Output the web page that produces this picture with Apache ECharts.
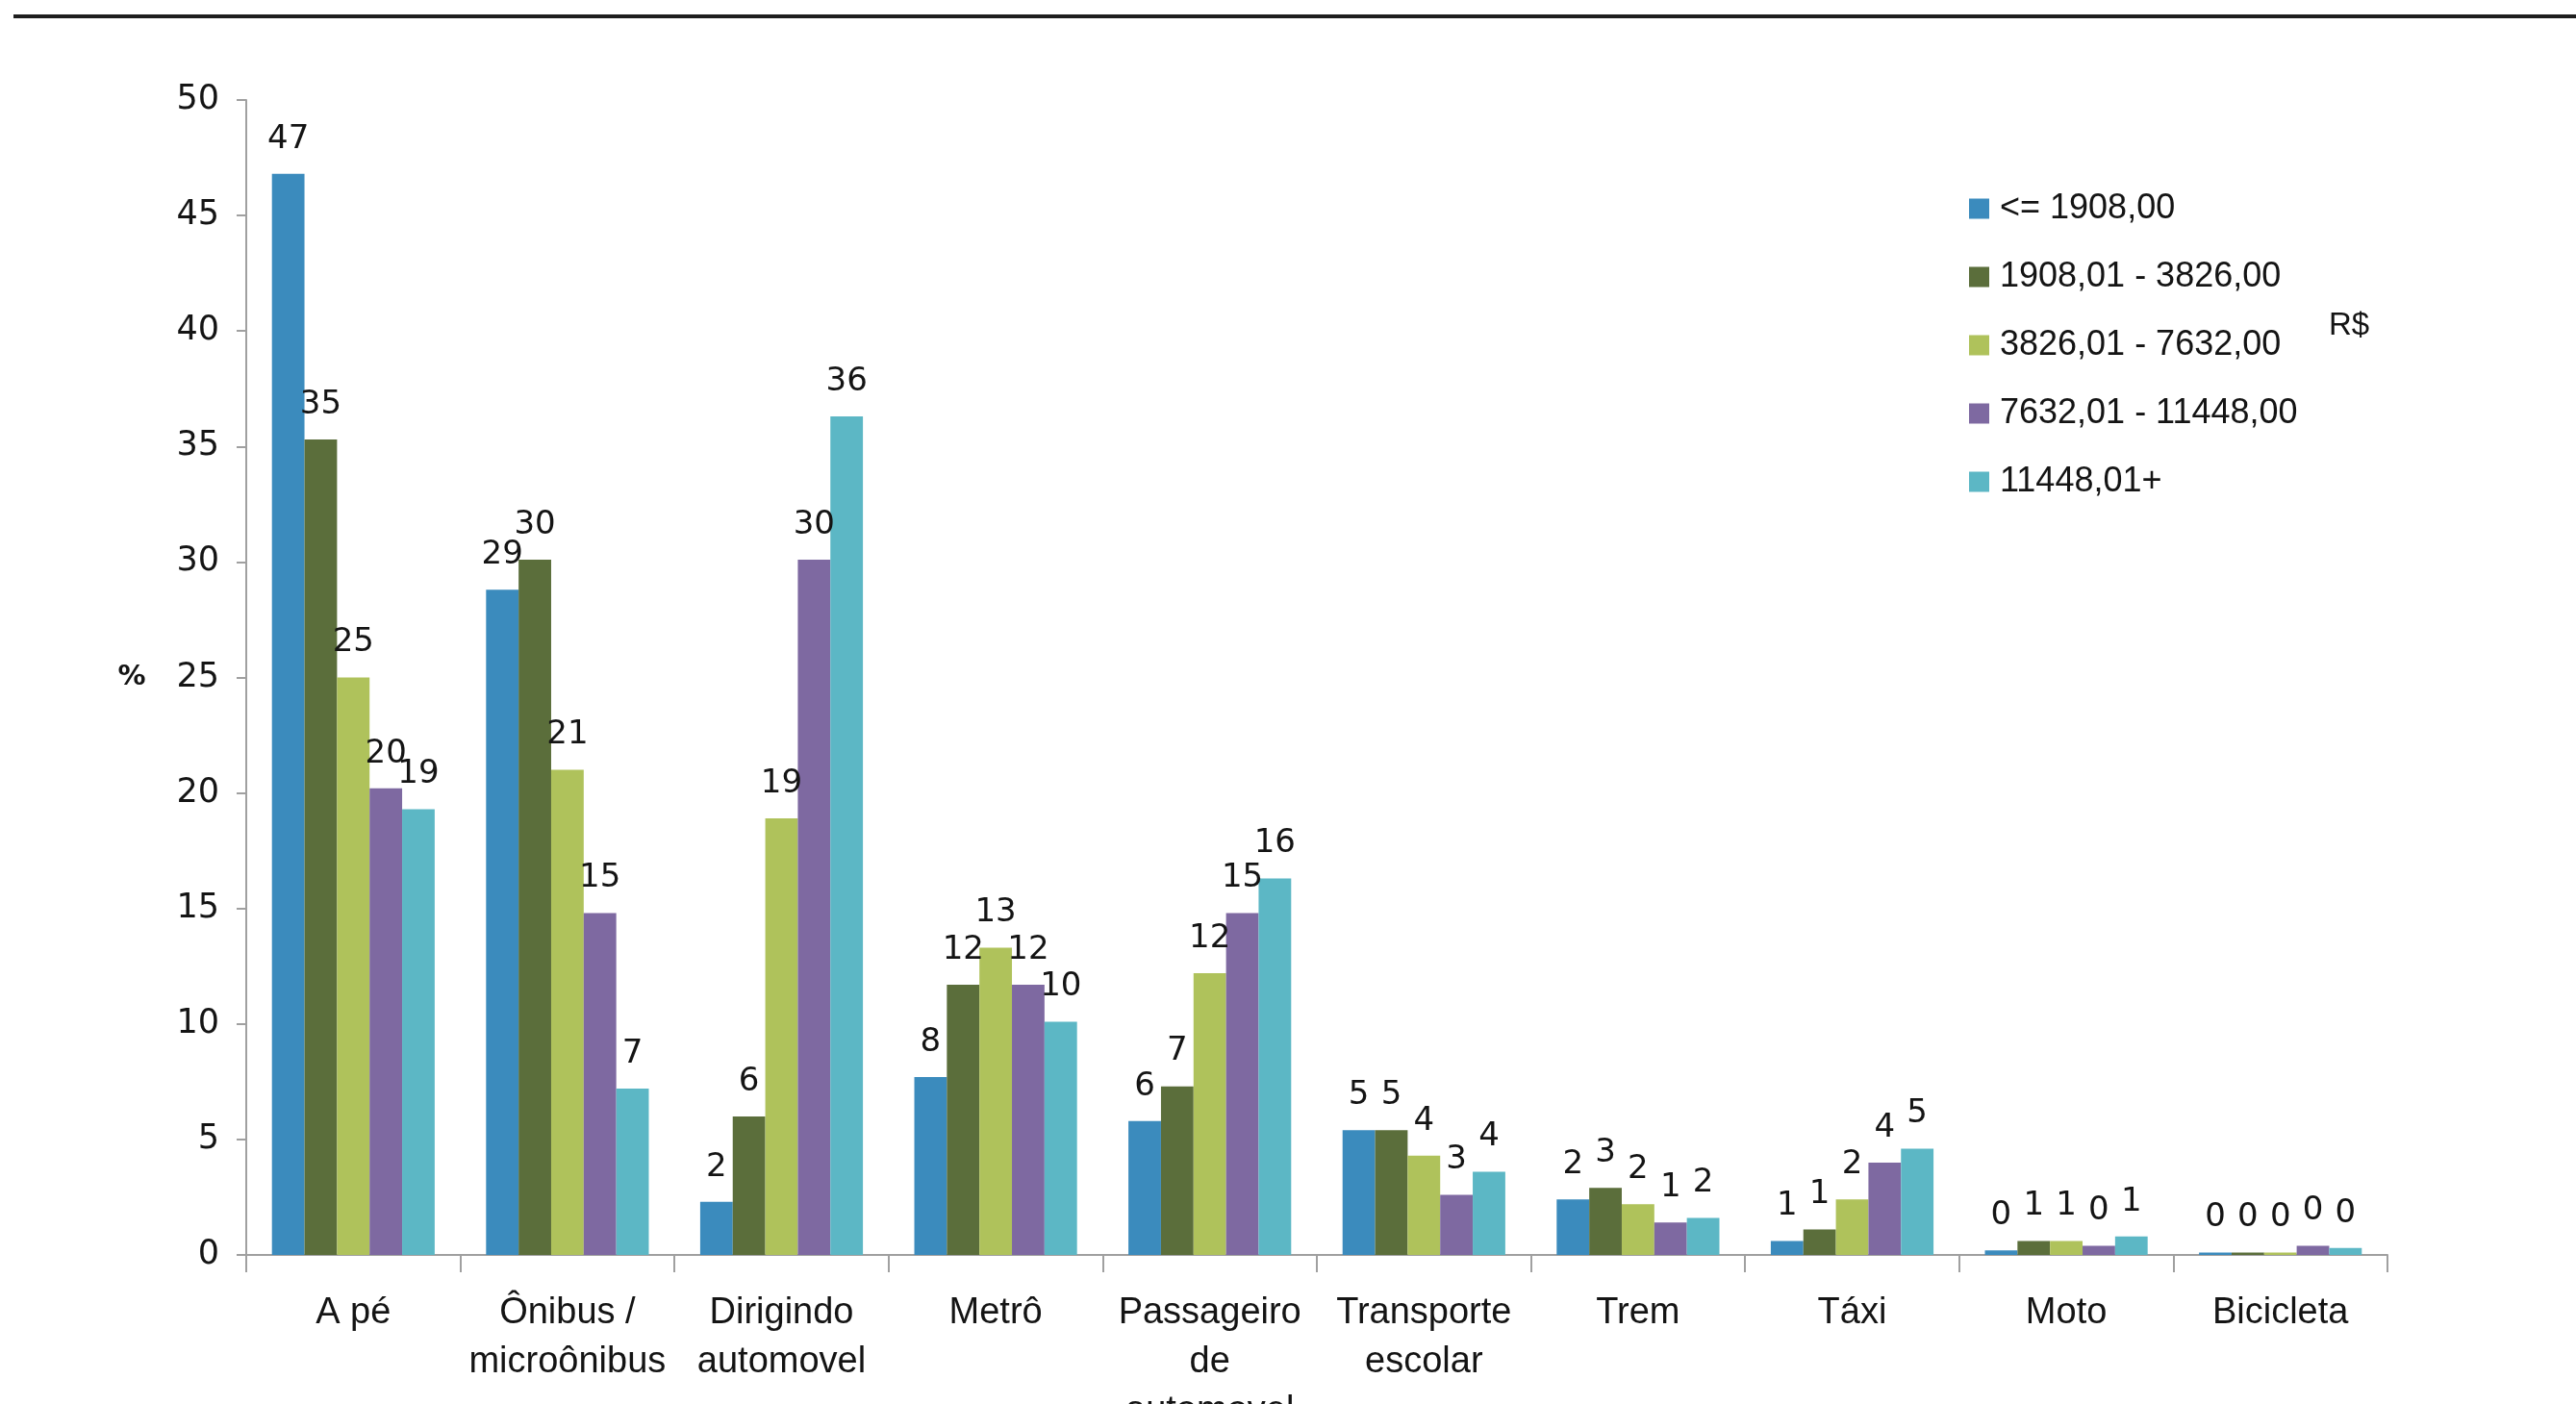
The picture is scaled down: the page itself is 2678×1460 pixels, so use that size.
<!DOCTYPE html>
<html>
<head>
<meta charset="utf-8">
<title>Modo de transporte por faixa de renda</title>
<script src="https://cdn.jsdelivr.net/npm/echarts@6/dist/echarts.min.js"></script>
<style>
  html, body { margin: 0; padding: 0; background: #ffffff; }
  #chart { width: 2678px; height: 1460px; }
</style>
</head>
<body>
<div id="chart"></div>
<script>
// Travel mode categories (line breaks as printed under the axis)
const categories = [
  'A pé',
  'Ônibus /\nmicroônibus',
  'Dirigindo\nautomovel',
  'Metrô',
  'Passageiro\nde\nautomovel',
  'Transporte\nescolar',
  'Trem',
  'Táxi',
  'Moto',
  'Bicicleta'
];

// Household income bands (R$)
const incomeBands = [
  '<= 1908,00',
  '1908,01 - 3826,00',
  '3826,01 - 7632,00',
  '7632,01 - 11448,00',
  '11448,01+'
];

// Share of trips (%) per mode, one array per income band
const bandUpTo1908 = [46.8, 28.8, 2.3, 7.7, 5.8, 5.4, 2.4, 0.6, 0.2, 0.1];
const band1908to3826 = [35.3, 30.1, 6.0, 11.7, 7.3, 5.4, 2.9, 1.1, 0.6, 0.1];
const band3826to7632 = [25.0, 21.0, 18.9, 13.3, 12.2, 4.3, 2.2, 2.4, 0.6, 0.1];
const band7632to11448 = [20.2, 14.8, 30.1, 11.7, 14.8, 2.6, 1.4, 4.0, 0.4, 0.4];
const band11448plus = [19.3, 7.2, 36.3, 10.1, 16.3, 3.6, 1.6, 4.6, 0.8, 0.3];

const bandValues = [bandUpTo1908, band1908to3826, band3826to7632, band7632to11448, band11448plus];
const bandColors = ['#3B8BBD', '#5B6E3B', '#AFC25B', '#7E69A1', '#5CB7C5'];

// y-axis ticks: 0 to 50 every 5
const yMin = 0, yMax = 50, yStep = 5;

const chart = echarts.init(document.getElementById('chart'), null, { renderer: 'canvas' });

const series = incomeBands.map((band, i) => ({
  name: band,
  type: 'bar',
  data: bandValues[i],
  barGap: '0%',
  barCategoryGap: '24%',
  itemStyle: { color: bandColors[i] },
  label: {
    show: true,
    position: 'top',
    distance: 19,
    fontFamily: 'DejaVu Sans',
    fontSize: 34,
    color: '#141414',
    formatter: p => String(Math.round(p.value))
  }
}));

chart.setOption({
  backgroundColor: '#ffffff',
  animation: false,
  grid: {
    left: 256, right: 196, top: 104, bottom: 155,
    containLabel: false,
    outerBoundsMode: 'none'
  },
  legend: {
    orient: 'vertical',
    left: 2042,
    top: 194,
    itemWidth: 21,
    itemHeight: 21,
    itemGap: 35,
    icon: 'rect',
    data: incomeBands,
    textStyle: {
      fontFamily: 'Liberation Sans',
      fontSize: 36,
      lineHeight: 36,
      color: '#141414',
      padding: [0, 0, 0, 6]
    }
  },
  xAxis: {
    type: 'category',
    data: categories,
    axisLine: { show: true, lineStyle: { color: '#a0a0a0', width: 2 } },
    axisTick: { show: true, length: 18, lineStyle: { color: '#a0a0a0', width: 2 } },
    axisLabel: {
      interval: 0,
      margin: 35,
      fontFamily: 'Liberation Sans',
      fontSize: 38,
      lineHeight: 51,
      color: '#141414'
    }
  },
  yAxis: {
    type: 'value',
    min: yMin,
    max: yMax,
    interval: yStep,
    name: '%',
    nameLocation: 'middle',
    nameRotate: 0,
    nameGap: 119,
    nameTextStyle: {
      fontFamily: 'DejaVu Sans',
      fontWeight: 'bold',
      fontSize: 29,
      color: '#141414',
      align: 'center',
      verticalAlign: 'middle'
    },
    splitLine: { show: false },
    axisLine: { show: true, lineStyle: { color: '#a0a0a0', width: 2 } },
    axisTick: { show: true, length: 10, lineStyle: { color: '#a0a0a0', width: 2 } },
    axisLabel: {
      margin: 28,
      fontFamily: 'DejaVu Sans',
      fontSize: 35,
      color: '#141414'
    }
  },
  graphic: [
    {
      type: 'line',
      shape: { x1: 14, y1: 17, x2: 2678, y2: 17 },
      style: { stroke: '#1e1e1e', lineWidth: 4 }
    },
    {
      type: 'text',
      left: 2421,
      top: 322,
      style: {
        text: 'R$',
        fontFamily: 'Liberation Sans',
        fontSize: 33,
        fill: '#141414'
      }
    }
  ],
  series: series
});
</script>
</body>
</html>
